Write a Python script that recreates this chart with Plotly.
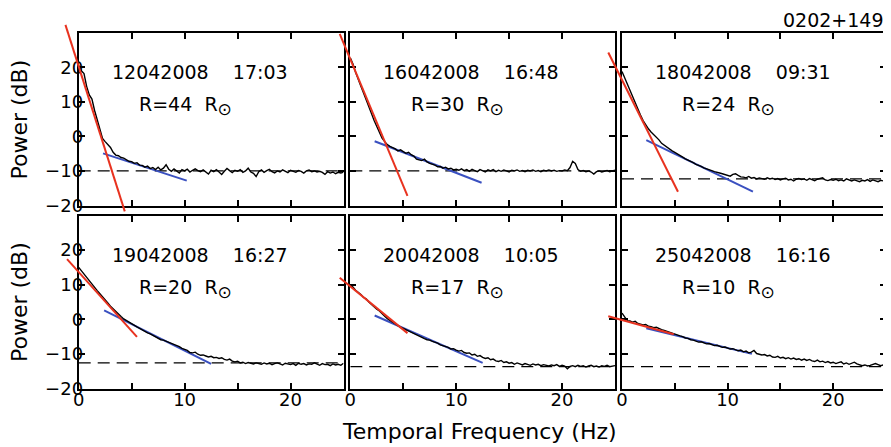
import plotly.graph_objects as go

# ---------------- data ----------------
FREQ = [0, 0.25, 0.5, 0.75, 1, 1.25, 1.5, 1.75, 2, 2.25, 2.5, 2.75, 3, 3.25, 3.5, 3.75, 4, 4.25, 4.5, 4.75,
        5, 5.25, 5.5, 5.75, 6, 6.25, 6.5, 6.75, 7, 7.25, 7.5, 7.75, 8, 8.25, 8.5, 8.75, 9, 9.25, 9.5, 9.75,
        10, 10.25, 10.5, 10.75, 11, 11.25, 11.5, 11.75, 12, 12.25, 12.5, 12.75, 13, 13.25, 13.5, 13.75, 14, 14.25, 14.5, 14.75,
        15, 15.25, 15.5, 15.75, 16, 16.25, 16.5, 16.75, 17, 17.25, 17.5, 17.75, 18, 18.25, 18.5, 18.75, 19, 19.25, 19.5, 19.75,
        20, 20.25, 20.5, 20.75, 21, 21.25, 21.5, 21.75, 22, 22.25, 22.5, 22.75, 23, 23.25, 23.5, 23.75, 24, 24.25, 24.5, 24.75,
        25]

DATES = ["12042008", "16042008", "18042008", "19042008", "20042008", "25042008"]
TIMES = ["17:03", "16:48", "09:31", "16:27", "10:05", "16:16"]
RADII = [44, 30, 24, 20, 17, 10]

SPEC_12042008 = [
    20.5, 19.0, 18.2, 14.5, 12.0, 10.8, 7.5, 4.8, 1.5, -0.6, -1.5, -2.3, -3.2, -4.6, -5.4, -5.6, -6.1, -6.3, -6.7, -7.2,
    -7.3, -7.8, -7.6, -8.3, -8.4, -8.9, -8.6, -9.3, -9.0, -9.6, -8.9, -9.7, -9.2, -8.2, -9.5, -10.1, -9.4, -9.9, -10.6, -9.6,
    -10.0, -9.5, -10.3, -9.8, -9.4, -9.9, -10.2, -9.7, -10.4, -10.9, -9.8, -10.2, -9.6, -10.3, -11.0, -10.1, -9.3, -9.9, -10.5, -9.8,
    -10.1, -9.6, -10.4, -10.0, -9.2, -10.3, -10.7, -11.6, -10.2, -9.7, -10.4, -9.9, -9.5, -10.2, -10.6, -10.0, -10.3, -9.7, -10.1, -10.5,
    -9.8, -10.0, -10.4, -9.9, -10.1, -10.6, -10.0, -9.7, -10.2, -10.0, -10.3, -10.1, -10.4, -11.0, -10.2, -10.6, -10.3, -10.8, -10.4, -10.6,
    -10.3]
SPEC_16042008 = [
    22.8, 21.0, 18.6, 16.2, 14.5, 12.6, 10.4, 8.2, 6.6, 4.6, 2.8, 1.0, -0.5, -1.5, -2.4, -2.9, -3.2, -3.6, -4.2, -3.9,
    -4.4, -4.9, -4.6, -5.3, -5.7, -6.6, -6.8, -7.0, -6.6, -7.4, -7.8, -8.0, -8.3, -8.8, -8.7, -9.2, -8.9, -9.4, -9.2, -9.7,
    -9.5, -9.8, -9.4, -9.9, -9.6, -10.1, -9.5, -9.9, -10.2, -9.6, -9.9, -10.3, -9.7, -10.0, -9.6, -10.2, -9.8, -10.1, -9.7, -10.0,
    -10.3, -9.8, -10.0, -9.7, -10.1, -9.9, -10.2, -9.8, -10.0, -9.7, -10.1, -9.9, -10.2, -9.8, -10.0, -9.7, -10.0, -9.8, -10.1, -9.9,
    -10.0, -9.7, -9.9, -9.0, -7.2, -7.8, -9.6, -10.1, -9.9, -10.2, -10.0, -10.3, -10.9, -10.2, -10.0, -10.3, -10.1, -9.9, -10.2, -10.0,
    -9.8]
SPEC_18042008 = [
    18.8, 17.0, 14.8, 13.0, 11.2, 9.3, 7.9, 6.2, 4.6, 3.2, 2.2, 1.3, 0.6, -0.2, -1.0, -2.0, -2.6, -3.1, -3.6, -4.2,
    -4.6, -5.0, -5.6, -6.0, -6.5, -6.8, -7.3, -7.6, -8.1, -8.3, -8.7, -9.1, -9.3, -9.6, -9.9, -10.2, -10.3, -10.6, -10.8, -11.0,
    -11.2, -11.5, -11.0, -10.8, -11.3, -11.7, -11.8, -12.0, -11.6, -12.1, -11.9, -12.3, -12.0, -12.2, -12.4, -12.0, -12.3, -12.1, -12.5, -12.2,
    -12.6, -12.3, -12.1, -12.6, -12.4, -12.9, -12.4, -12.2, -12.5, -12.3, -12.7, -12.2, -12.5, -12.8, -12.4, -12.3, -12.0, -12.6, -12.8, -12.5,
    -12.7, -12.4, -12.8, -12.6, -12.9, -12.3, -12.5, -12.9, -12.6, -12.8, -13.1, -12.7, -12.9, -12.5, -13.0, -12.6, -12.8, -13.1, -12.7, -12.9,
    -12.6]
SPEC_19042008 = [
    15.0, 14.0, 13.0, 12.0, 11.1, 10.1, 9.2, 8.3, 7.4, 6.4, 5.6, 4.7, 3.8, 3.0, 2.2, 1.4, 0.8, 0.1, -0.4, -0.9,
    -1.3, -1.8, -2.2, -2.6, -3.1, -3.4, -3.9, -4.2, -4.6, -5.0, -5.3, -5.9, -6.0, -6.3, -6.8, -7.0, -7.3, -7.6, -7.9, -8.4,
    -8.7, -9.0, -9.6, -9.7, -9.5, -10.1, -10.4, -10.3, -10.6, -10.9, -10.7, -11.1, -11.0, -11.3, -11.1, -11.6, -11.8, -11.5, -12.1, -12.3,
    -12.1, -12.6, -12.4, -12.8, -12.5, -12.7, -12.9, -12.6, -12.8, -13.0, -12.6, -12.9, -12.7, -13.1, -12.8, -12.6, -12.9, -13.2, -12.7, -12.9,
    -13.1, -12.8, -13.3, -12.7, -13.0, -12.8, -13.2, -12.9, -13.0, -12.6, -12.9, -13.3, -12.8, -13.1, -13.0, -13.4, -12.9, -13.2, -13.0, -13.3,
    -12.7]
SPEC_20042008 = [
    9.8, 9.3, 8.4, 7.8, 7.2, 6.3, 5.9, 5.0, 4.3, 3.5, 2.9, 2.4, 1.5, 0.9, 0.2, -0.3, -0.9, -1.3, -1.7, -2.3,
    -2.6, -3.0, -3.3, -3.8, -4.1, -4.5, -4.8, -5.4, -5.6, -5.9, -6.0, -6.4, -6.6, -6.9, -7.4, -7.6, -7.9, -8.1, -8.6, -8.5,
    -8.9, -9.2, -9.0, -9.6, -9.8, -9.7, -10.3, -10.1, -10.7, -10.5, -11.0, -11.3, -11.1, -11.7, -11.5, -12.0, -12.2, -11.9, -12.5, -12.3,
    -12.7, -12.5, -13.0, -12.6, -12.9, -13.2, -12.8, -13.1, -13.3, -12.9, -13.2, -13.0, -13.4, -13.1, -13.3, -13.5, -13.2, -13.4, -13.1, -13.6,
    -13.3, -13.5, -14.3, -13.6, -13.4, -13.7, -13.3, -13.6, -13.4, -13.8, -13.5, -13.3, -13.7, -13.5, -13.8, -13.4, -13.6, -13.3, -13.7, -13.5,
    -13.4]
SPEC_25042008 = [
    1.8, 0.6, -0.4, -0.5, -0.8, -0.6, -1.2, -1.4, -1.6, -1.5, -2.0, -2.1, -2.4, -2.3, -2.7, -3.0, -3.2, -3.5, -3.6, -4.0,
    -4.3, -4.5, -4.8, -5.0, -5.4, -5.5, -5.9, -6.0, -6.2, -6.6, -6.5, -6.9, -7.1, -7.0, -7.4, -7.6, -7.5, -7.9, -8.1, -8.0,
    -8.4, -8.6, -8.5, -8.9, -9.1, -8.9, -9.4, -9.2, -9.7, -9.5, -9.0, -9.9, -10.1, -10.3, -10.2, -10.6, -10.4, -10.9, -11.0, -10.7,
    -11.2, -11.0, -11.4, -11.1, -11.5, -11.2, -11.6, -11.4, -11.8, -11.5, -11.9, -11.6, -12.0, -12.2, -11.8, -12.3, -12.1, -12.5, -12.2, -12.6,
    -12.4, -12.8, -12.5, -12.3, -12.9, -12.6, -13.0, -12.7, -12.4, -12.9, -13.2, -13.4, -13.2, -13.5, -13.3, -13.0, -12.8, -13.1, -13.4, -13.2,
    -13.5]
SPECTRA = [SPEC_12042008, SPEC_16042008, SPEC_18042008, SPEC_19042008, SPEC_20042008, SPEC_25042008]

NOISE_LEVEL = [-10.0, -10.0, -12.3, -12.6, -13.7, -13.7]

RED_X = [[-1.25, 4.35], [-1.0, 5.4], [-1.3, 5.3], [-1.1, 5.5], [-1.0, 5.4], [-1.3, 4.9]]
RED_Y = [[32.3, -21.7], [29.7, -17.2], [24.3, -16.0], [17.4, -5.1], [12.0, -4.0], [0.9, -4.3]]
BLUE_X = [[2.3, 10.2], [2.3, 12.4], [2.3, 12.4], [2.4, 12.5], [2.3, 12.5], [2.3, 12.3]]
BLUE_Y = [[-4.9, -12.8], [-1.4, -13.4], [-1.1, -16.0], [2.6, -12.9], [1.1, -12.6], [-2.6, -10.0]]

X_TICKS = [0, 10, 20]
X_MINOR_TICKS = [5, 15]
Y_TICKS = [-20, -10, 0, 10, 20]
SOURCE = "0202+149"
X_TITLE = "Temporal Frequency (Hz)"
Y_TITLE = "Power (dB)"

# ---------------- layout geometry (page pixels; page body has an 8px margin) ----------------
OFF = 8
W, H = 891 - OFF, 447 - OFF
ML, MR, MT, MB = 42, 2, 12, 55
PW, PH = W - ML - MR, H - MT - MB
XR = [0, 25]
YR = [-20, 30]
LW = 2  # frame line width; plotly draws axis lines just outside the domain


def fx(px):
    return (px - OFF - ML) / PW


def fy(py):
    return (H - MB - (py - OFF)) / PH


# frame-line centres measured on the page
COLS = [(77.7, 344.5), (349.3, 616.0), (621.0, 887.0)]
ROWS = [(31.8, 206.5), (214.5, 389.5)]

FONT = "DejaVu Sans"
RED = "#e8321f"
BLUE = "#3a50c0"

fig = go.Figure()
layout = dict(
    width=W, height=H,
    margin=dict(l=ML, r=MR, t=MT, b=MB, pad=0, autoexpand=False),
    paper_bgcolor="white", plot_bgcolor="rgba(0,0,0,0)",
    showlegend=False,
    font=dict(family=FONT, size=18, color="black"),
)
annotations = []
tick_style = dict(ticks="inside", ticklen=6, tickwidth=1.5, tickcolor="black")
hidden_axis = dict(visible=False, showline=False, zeroline=False, showgrid=False,
                   showticklabels=False, ticks="", fixedrange=True)

for k in range(6):
    r, c = divmod(k, 3)
    n = k + 1
    m = k + 7
    xd = [fx(COLS[c][0] + LW / 2), fx(COLS[c][1] - LW / 2)]
    yd = [fy(ROWS[r][1] - LW / 2), fy(ROWS[r][0] + LW / 2)]
    sx = "" if n == 1 else str(n)
    layout["xaxis" + sx] = dict(
        domain=xd, range=XR, anchor="y" + sx,
        tickmode="array", tickvals=X_TICKS,
        minor=dict(tickmode="array", tickvals=X_MINOR_TICKS, **tick_style),
        showline=True, linewidth=LW, linecolor="black", mirror="allticks",
        showgrid=False, zeroline=False, showticklabels=(r == 1),
        ticklabelstandoff=-6, automargin=False,
        tickfont=dict(family=FONT, size=18, color="black"), fixedrange=True,
        **tick_style,
    )
    layout["yaxis" + sx] = dict(
        domain=yd, range=YR, anchor="x" + sx,
        tickmode="array", tickvals=Y_TICKS,
        showline=True, linewidth=LW, linecolor="black", mirror="allticks",
        showgrid=False, zeroline=False, showticklabels=(c == 0),
        ticklabelstandoff=-10, automargin=False,
        tickfont=dict(family=FONT, size=18, color="black"), fixedrange=True,
        **tick_style,
    )
    # overlay axes spanning the whole plot area with identical scale (fit lines may overhang the frame)
    sxs = (XR[1] - XR[0]) / (xd[1] - xd[0])
    sys_ = (YR[1] - YR[0]) / (yd[1] - yd[0])
    ox0 = XR[0] - xd[0] * sxs
    oy0 = YR[0] - yd[0] * sys_
    layout["xaxis" + str(m)] = dict(domain=[0, 1], range=[ox0, ox0 + sxs], anchor="y" + str(m), **hidden_axis)
    layout["yaxis" + str(m)] = dict(domain=[0, 1], range=[oy0, oy0 + sys_], anchor="x" + str(m), **hidden_axis)

    xa, ya = "x" + sx, "y" + sx
    fig.add_trace(go.Scatter(x=XR, y=[NOISE_LEVEL[k]] * 2, mode="lines", xaxis=xa, yaxis=ya,
                             line=dict(color="black", width=1.3, dash="12px,7px"), hoverinfo="skip"))
    fig.add_trace(go.Scatter(x=BLUE_X[k], y=BLUE_Y[k], mode="lines", xaxis=xa, yaxis=ya,
                             line=dict(color=BLUE, width=2), hoverinfo="skip"))
    fig.add_trace(go.Scatter(x=FREQ, y=SPECTRA[k], mode="lines", xaxis=xa, yaxis=ya,
                             line=dict(color="black", width=1.4)))
    fig.add_trace(go.Scatter(x=RED_X[k], y=RED_Y[k], mode="lines", xaxis="x" + str(m), yaxis="y" + str(m),
                             line=dict(color=RED, width=2), hoverinfo="skip"))

    nb = "\u00a0"
    annotations.append(dict(
        xref=xa + " domain", yref=ya + " domain", x=0.457, y=0.774,
        xanchor="center", yanchor="middle", showarrow=False,
        text=DATES[k] + nb * 4 + TIMES[k], font=dict(family=FONT, size=19, color="black")))
    annotations.append(dict(
        xref=xa + " domain", yref=ya + " domain", x=0.221, y=0.575,
        xanchor="left", yanchor="middle", showarrow=False,
        text="R=%d" % RADII[k] + nb * 2 + "R<sub><span style='font-size:17px'>\u2299</span></sub>",
        font=dict(family=FONT, size=19, color="black")))

for py in (119.5, 302.0):
    annotations.append(dict(xref="paper", yref="paper", x=fx(19), y=fy(py), textangle=-90,
                            xanchor="center", yanchor="middle", showarrow=False,
                            text=Y_TITLE, font=dict(family=FONT, size=22, color="black")))
annotations.append(dict(xref="paper", yref="paper", x=fx(479), y=fy(432),
                        xanchor="center", yanchor="middle", showarrow=False,
                        text=X_TITLE, font=dict(family=FONT, size=22, color="black")))
annotations.append(dict(xref="paper", yref="paper", x=fx(886), y=fy(20),
                        xanchor="right", yanchor="middle", showarrow=False,
                        text=SOURCE, font=dict(family=FONT, size=19, color="black")))

layout["annotations"] = annotations
fig.update_layout(**layout)
fig.write_html("out.html")
